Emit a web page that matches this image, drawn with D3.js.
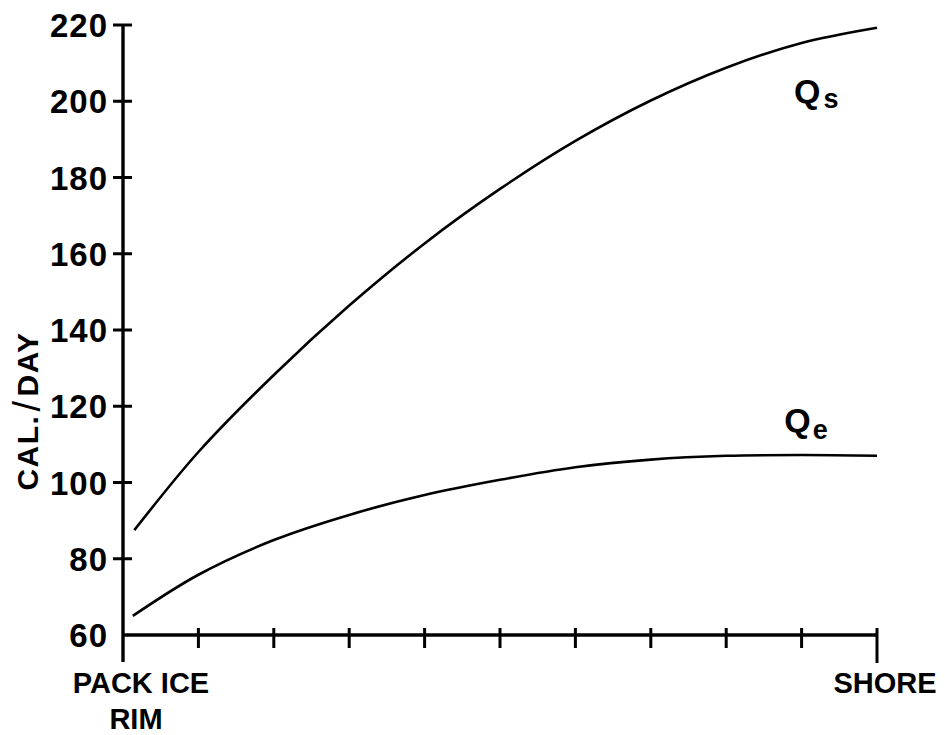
<!DOCTYPE html>
<html>
<head>
<meta charset="utf-8">
<script src="https://cdn.jsdelivr.net/npm/d3@7"></script>
<style>
  body { margin: 0; background: #fff; }
  svg text { font-family: "Liberation Sans", Arial, sans-serif; font-weight: bold; fill: #000; }
  .curve { fill: none; stroke: #000; stroke-width: 2.6; }
  .axis-line { stroke: #000; stroke-width: 3.4; }
  .tick { stroke: #000; stroke-width: 3; }
</style>
</head>
<body>
<div id="chart"></div>
<script>
// positions along the transect, 0 = pack ice rim, 10 = shore
var qsPos = [0.15, 1, 2, 3, 4, 5, 6, 7, 8, 9, 10];
var qsVals = [87.5, 108, 128.2, 146.4, 162.7, 177, 189.6, 200.2, 208.8, 215.3, 219.3];
var qePos = [0.13, 1, 2, 3, 4, 5, 6, 7, 8, 9, 10];
var qeVals = [65, 75.8, 84.9, 91.5, 96.7, 100.7, 104, 106, 107, 107.2, 107];
var yTicks = [60, 80, 100, 120, 140, 160, 180, 200, 220];
var xTicks = [0, 1, 2, 3, 4, 5, 6, 7, 8, 9, 10];

var width = 945, height = 735;

var svg = d3.select("#chart").append("svg")
    .attr("width", width)
    .attr("height", height);

var x = d3.scaleLinear().domain([0, 10]).range([123, 877]);
var y = d3.scaleLinear().domain([60, 220]).range([635, 25]);

// axes drawn by hand to get the old style crossing ticks
svg.append("line").attr("class", "axis-line")
    .attr("x1", x(0)).attr("x2", x(0))
    .attr("y1", y(220)).attr("y2", y(60) + 27);
svg.append("line").attr("class", "axis-line")
    .attr("x1", x(0)).attr("x2", x(10))
    .attr("y1", y(60)).attr("y2", y(60));

svg.selectAll("line.ytick")
  .data(yTicks.filter(function(d){ return d > 60; }))
  .enter().append("line")
    .attr("class", "tick ytick")
    .attr("x1", x(0) - 10).attr("x2", x(0) + 9)
    .attr("y1", y).attr("y2", y);

svg.selectAll("text.ylab")
  .data(yTicks)
  .enter().append("text")
    .attr("class", "ylab")
    .attr("x", x(0) - 15)
    .attr("y", function(d){ return y(d) + 12; })
    .attr("text-anchor", "end")
    .style("font-size", "33px")
    .style("letter-spacing", "1px")
    .text(function(d){ return d; });

svg.selectAll("line.xtick")
  .data(xTicks.filter(function(d){ return d > 0; }))
  .enter().append("line")
    .attr("class", "tick xtick")
    .attr("x1", x).attr("x2", x)
    .attr("y1", y(60) - 7)
    .attr("y2", function(d){ return d == 10 ? y(60) + 28 : y(60) + 13; });

svg.append("text")
    .attr("x", x(0) + 18).attr("y", 693)
    .attr("text-anchor", "middle")
    .style("font-size", "29px")
    .text("PACK ICE");
svg.append("text")
    .attr("x", x(0) + 13).attr("y", 729)
    .attr("text-anchor", "middle")
    .style("font-size", "29px")
    .text("RIM");
svg.append("text")
    .attr("x", x(10) + 8).attr("y", 693)
    .attr("text-anchor", "middle")
    .style("font-size", "29px")
    .text("SHORE");

var yl = svg.append("text")
    .attr("transform", "translate(38,411) rotate(-90)")
    .attr("text-anchor", "middle")
    .style("font-size", "30px")
    .style("letter-spacing", "1.5px");
yl.append("tspan").text("CAL.");
yl.append("tspan").style("font-size", "38px").style("font-weight", "normal")
    .attr("dx", 3).attr("dy", 2).text("/");
yl.append("tspan").attr("dx", 3).attr("dy", -2).text("DAY");

var line = d3.line()
    .x(function(d){ return x(d[0]); })
    .y(function(d){ return y(d[1]); })
    .curve(d3.curveCatmullRom.alpha(0.5));

svg.append("path").attr("class", "curve")
    .attr("d", line(d3.zip(qsPos, qsVals)));
svg.append("path").attr("class", "curve")
    .attr("d", line(d3.zip(qePos, qeVals)));

// curve labels
var qs = svg.append("text").attr("x", x(8.9)).attr("y", y(199.5)).style("font-size", "34px");
qs.append("tspan").text("Q");
qs.append("tspan").attr("dx", 3).attr("dy", 5).style("font-size", "27px").text("s");

var qe = svg.append("text").attr("x", x(8.77)).attr("y", y(113.2)).style("font-size", "34px");
qe.append("tspan").text("Q");
qe.append("tspan").attr("dx", 2).attr("dy", 7).style("font-size", "27px").text("e");
</script>
</body>
</html>
